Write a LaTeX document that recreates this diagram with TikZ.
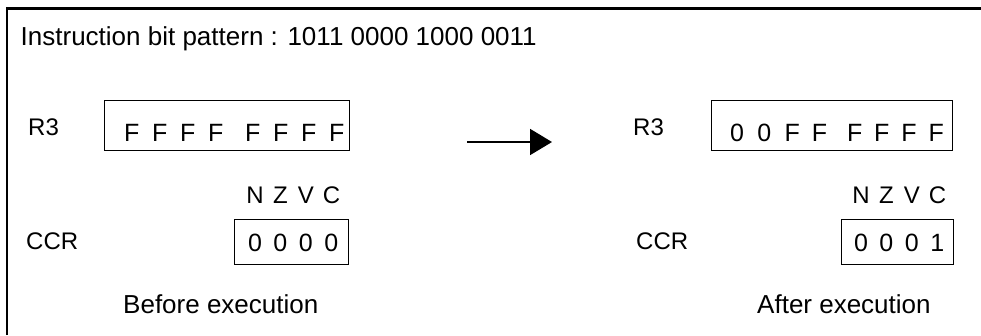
\documentclass[tikz,border=0pt]{standalone}
\usepackage{fontspec}
\setmainfont{Liberation Sans}
\usetikzlibrary{arrows.meta}
\newcommand\cel[1]{\makebox[28pt][l]{#1}}
\newcommand\celb[1]{\makebox[27.2pt][l]{#1}}
\newcommand\flg[1]{\makebox[25.5pt][c]{#1}}
\begin{document}
\begin{tikzpicture}[x=1pt,y=-1pt,
  txt/.style={anchor=base west, inner sep=0pt, font=\fontsize{26}{30}\selectfont},
  lbl/.style={txt, font=\fontsize{24}{28}\selectfont},
  flagtext/.style={txt, font=\fontsize{24}{28}\selectfont},
  val/.style={txt, font=\fontsize{25}{29}\selectfont},
  captext/.style={txt, font=\fontsize{26}{30}\selectfont},
  regbox/.style={draw, line width=1.2pt, inner sep=0pt, anchor=north west},
  framel/.style={line width=2.5pt},
  arr/.style={line width=1.8pt, -{Triangle[length=22pt,width=26pt]}}]
\useasboundingbox (0,0) rectangle (981,335);
% frame
\draw[framel] (7,335) -- (7,8.5) -- (981,8.5);
% title
\node[txt] (title) at (20.5,45) {Instruction bit pattern : 1011 0000 1000 0011};
% before
\node[lbl] (r3a) at (28,135) {R3};
\node[regbox, minimum width=245pt, minimum height=50pt] (boxa) at (104,100) {};
\node[val] (vala) at (124,141) {\cel{F}\cel{F}\cel{F}\cel{F}\hspace{9pt}\cel{F}\cel{F}\cel{F}\cel{F}};
\node[flagtext] (flagsa) at (242,203) {\flg{N}\flg{Z}\flg{V}\flg{C}};
\node[lbl] (ccra) at (26,249) {CCR};
\node[regbox, minimum width=114pt, minimum height=45pt] (ccrboxa) at (234,219) {};
\node[val] (ccrvala) at (242,251) {\flg{0}\flg{0}\flg{0}\flg{0}};
\node[captext] (before) at (123,313) {Before execution};
% arrow
\coordinate (as) at (467,142);
\coordinate (ae) at (552,142);
\draw[arr] (as) -- (ae);
% after
\node[lbl] (r3b) at (633,135) {R3};
\node[regbox, minimum width=241pt, minimum height=50pt] (boxb) at (711,100) {};
\node[val] (valb) at (730,141) {\celb{0}\celb{0}\celb{F}\celb{F}\hspace{8pt}\celb{F}\celb{F}\celb{F}\celb{F}};
\node[flagtext] (flagsb) at (848,203) {\flg{N}\flg{Z}\flg{V}\flg{C}};
\node[lbl] (ccrb) at (636,249) {CCR};
\node[regbox, minimum width=112pt, minimum height=45pt] (ccrboxb) at (841,219) {};
\node[val] (ccrvalb) at (848,251) {\flg{0}\flg{0}\flg{0}\flg{1}};
\node[captext] (after) at (757,313) {After execution};
\end{tikzpicture}
\end{document}
